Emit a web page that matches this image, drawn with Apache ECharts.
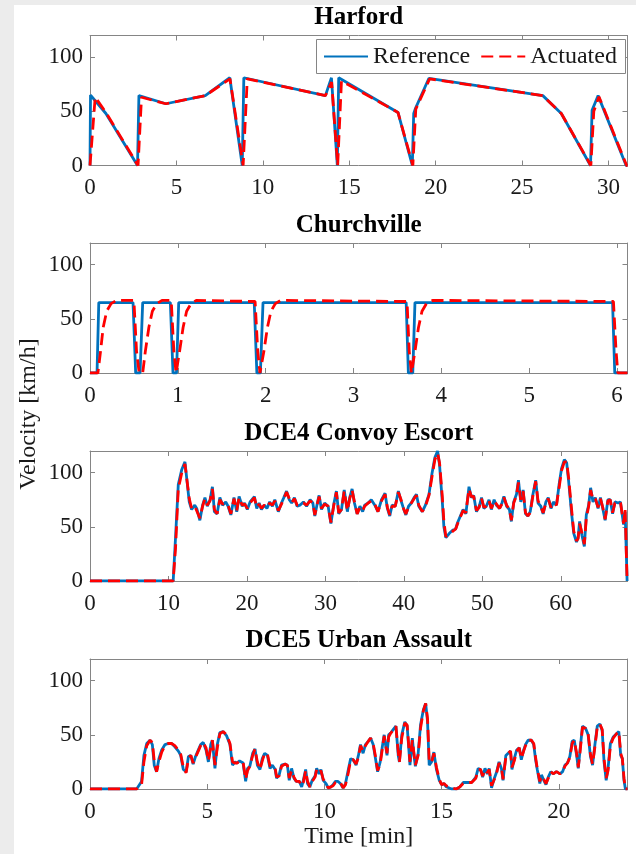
<!DOCTYPE html>
<html><head><meta charset="utf-8">
<script src="https://cdn.jsdelivr.net/npm/echarts@6/dist/echarts.min.js"></script>
<style>html,body{margin:0;padding:0;background:#fff}#c{width:636px;height:854px}</style>
</head><body><div id="c"></div>
<script>
// ---------- DATA ----------
const panelTitles = ['Harford', 'Churchville', 'DCE4 Convoy Escort', 'DCE5 Urban Assault'];
const xMaxes = [31.1, 6.12, 68.5, 22.93];
const xIntervals = [5, 1, 10, 5];
const yMax = 120, yInterval = 50;
const legendNames = ['Reference', 'Actuated'];
const xAxisTitle = 'Time [min]';
const yAxisTitle = 'Velocity [km/h]';

const harfordRefTime = [0,0.03,0.92,2.75,2.83,4.39,6.67,8.09,8.81,8.9,13.62,13.97,14.31,14.39,17.82,18.65,18.73,18.84,19.61,26.2,27.27,28.96,29.05,29.4,31.02,31.1];
const harfordRefVel  = [0,65,48,0,64.5,57,64.5,81,0,81,64.5,81,0,81,49,0,48,53,80.5,64.5,48,0,51,64.5,0,0];
const harfordActTime = [0,0.3,0.92,2.78,2.98,4.39,6.67,8.1,8.86,9.1,13.62,13.98,14.33,14.55,17.82,18.68,18.85,19.65,26.2,27.27,28.98,29.15,29.45,31.05,31.1];
const harfordActVel  = [0,63,49,0,63,57,64.5,80,0,80,64.5,77,0,78,49,0,52,80,64.5,48,0,50,63.5,0,0];

const churchRefTime = [0,0.08,0.1,0.49,0.52,0.57,0.6,0.915,0.945,0.985,1.01,1.87,1.9,1.94,1.97,3.6,3.625,3.675,3.7,5.95,5.975,6.12];
const churchRefVel  = [0,0,65,65,0,0,65,65,0,0,65,65,0,0,65,65,0,0,65,65,0,0];
const churchActTime = [0,0.09,0.12,0.15,0.19,0.24,0.3,0.5,0.53,0.56,0.6,0.63,0.67,0.71,0.76,0.82,0.925,0.955,0.98,0.99,1.02,1.06,1.1,1.15,1.21,1.88,1.91,1.935,1.95,1.98,2.02,2.06,2.11,2.17,3.61,3.635,3.66,3.67,3.7,3.74,3.78,3.83,3.9,5.96,5.99,6.01,6.12];
const churchActVel  = [0,0,20,42,57,64,67,67,20,0,0,20,42,57,64,67,67,20,0,0,20,42,57,64,67,66,20,0,0,20,42,57,64,67,66,20,0,0,20,42,57,64,67,66,20,0,0];

const dce4Time = [0,10.6,10.9,11.25,11.7,12.1,12.65,12.95,13.35,13.6,
 14.0,14.35,14.65,14.95,15.3,15.6,15.85,16.2,16.55,16.9,
 17.3,17.6,17.95,18.35,18.7,19.0,19.4,19.7,20.05,20.4,
 20.95,21.25,21.55,21.85,22.2,22.55,22.9,23.25,23.55,24.0,
 24.4,24.7,25.05,25.4,25.7,26.05,26.4,26.75,27.2,27.6,
 28.05,28.4,28.65,29.0,29.2,29.5,29.9,30.35,30.7,31.1,
 31.4,31.7,32.05,32.4,32.8,33.1,33.4,33.7,34.05,34.4,
 34.75,35.0,35.45,35.85,36.3,36.7,37.15,37.6,37.9,38.2,
 38.5,38.9,39.3,39.6,39.95,40.25,40.6,40.95,41.3,41.6,
 41.9,42.35,42.75,43.2,43.6,43.95,44.3,44.55,44.9,45.1,
 45.35,45.8,46.25,46.6,46.8,47.2,47.55,47.9,48.3,48.6,
 48.9,49.25,49.6,49.9,50.2,50.5,50.85,51.15,51.5,51.8,
 52.2,52.5,52.75,53.1,53.45,53.7,54.0,54.35,54.6,54.9,
 55.2,55.5,55.8,56.1,56.45,56.8,57.1,57.45,57.75,58.1,
 58.4,58.75,59.05,59.45,59.8,60.1,60.45,60.75,61.0,61.35,
 61.65,62.0,62.2,62.4,62.7,63.0,63.25,63.55,63.8,64.1,
 64.4,64.75,65.05,65.35,65.65,66.0,66.3,66.6,66.9,67.3,
 67.6,68.0,68.2,68.45,68.5];
const dce4Ref = [0,0,40,89,103,110,73,66,70,67,
 56,70,77,69,75,87,64,62,77,70,
 73,69,61,77,64,78,69,72,66,73,
 78,67,72,66,70,67,73,69,75,64,
 72,77,83,75,72,77,69,70,73,69,
 75,72,60,73,79,66,72,69,53,72,
 83,62,66,84,64,77,85,72,62,69,
 64,70,72,75,70,64,75,81,67,60,
 70,69,83,75,67,61,69,72,77,80,
 69,64,70,80,100,114,120,107,73,50,
 40,44,47,48,53,60,66,62,87,77,
 79,64,69,77,67,69,75,66,75,70,
 67,72,78,69,66,55,73,80,93,73,
 84,62,60,64,80,93,72,69,62,73,
 77,67,73,70,90,104,112,109,92,64,
 44,36,40,55,42,32,61,70,86,73,
 77,67,77,67,56,75,75,62,73,72,
 73,52,64,0,0];
const dce4Act = [0,0,30,85,100,108,76,67,69,68,
 58,69,76,70,74,85,66,62,75,71,
 72,70,62,76,65,77,70,71,67,72,
 77,68,71,67,70,68,72,70,74,65,
 71,76,82,76,72,76,70,70,72,70,
 74,72,61,72,78,67,71,69,54,71,
 82,63,66,83,65,76,84,73,62,68,
 65,69,72,74,71,64,74,80,68,61,
 69,69,82,76,67,62,68,72,76,79,
 70,64,69,79,97,112,118,109,78,55,
 41,43,46,48,52,59,65,63,85,78,
 78,65,68,76,68,69,74,67,74,71,
 67,71,77,70,66,56,72,79,91,75,
 83,63,60,63,79,92,74,69,63,72,
 76,68,72,70,87,102,110,110,95,68,
 46,37,39,53,44,34,58,69,84,75,
 76,68,76,68,57,74,75,63,72,72,
 73,53,66,0,0];

const dce5Time = [0,1.99,2.2,2.3,2.42,2.56,2.66,2.74,2.84,2.94,
 3.06,3.2,3.34,3.48,3.62,3.77,3.87,3.98,4.1,4.2,
 4.3,4.4,4.5,4.6,4.72,4.83,4.95,5.05,5.15,5.22,
 5.33,5.43,5.54,5.68,5.83,5.97,6.08,6.18,6.28,6.38,
 6.53,6.64,6.72,6.82,6.94,7.04,7.14,7.25,7.35,7.45,
 7.57,7.68,7.78,7.9,7.96,8.07,8.17,8.32,8.42,8.5,
 8.6,8.7,8.8,8.93,9.03,9.1,9.2,9.28,9.38,9.48,
 9.6,9.67,9.77,9.85,9.95,10.07,10.16,10.28,10.37,10.47,
 10.58,10.68,10.8,10.9,11.02,11.12,11.23,11.35,11.45,11.54,
 11.65,11.75,11.87,11.97,12.08,12.18,12.27,12.38,12.47,12.55,
 12.67,12.74,12.84,12.94,13.05,13.15,13.2,13.3,13.43,13.53,
 13.65,13.75,13.82,13.88,14.0,14.1,14.22,14.32,14.4,14.47,
 14.57,14.67,14.78,14.9,15.0,15.1,15.2,15.42,15.63,15.78,
 15.92,16.06,16.28,16.46,16.56,16.66,16.75,16.85,16.95,17.03,
 17.13,17.25,17.35,17.45,17.55,17.62,17.74,17.84,17.94,18.0,
 18.1,18.2,18.31,18.4,18.5,18.58,18.69,18.83,18.93,19.01,
 19.08,19.19,19.26,19.36,19.45,19.55,19.66,19.76,19.9,20.05,
 20.16,20.26,20.37,20.47,20.57,20.66,20.76,20.83,20.9,21.01,
 21.14,21.25,21.35,21.44,21.54,21.64,21.75,21.85,21.93,22.02,
 22.1,22.2,22.32,22.46,22.56,22.64,22.71,22.78,22.84,22.93];
const dce5Ref = [0,0,7,31,42,45,41,22,16,28,
 36,41,42,42,39,35,31,18,16,30,
 31,23,30,35,41,43,36,25,41,45,
 19,41,52,53,49,41,22,25,24,26,
 24,7,19,21,33,37,22,18,28,33,
 31,19,22,18,10,13,22,23,22,8,
 19,10,7,7,2,8,18,5,2,8,
 12,19,14,18,8,5,1,2,4,7,
 7,5,1,5,18,28,27,22,31,41,
 33,41,44,47,41,28,16,25,39,50,
 31,50,52,55,58,31,25,50,62,58,
 22,47,31,21,33,59,73,79,62,22,
 25,34,18,8,4,5,2,0,0,2,
 6,6,6,11,19,18,11,19,14,19,
 1,10,16,25,19,8,31,33,35,18,
 28,36,38,27,36,41,45,45,41,27,
 18,5,13,8,4,11,16,14,16,14,
 16,22,24,30,44,45,31,19,35,58,
 56,50,30,22,41,58,60,54,25,8,
 19,42,48,51,53,31,28,8,0,0];
const dce5Act = [0,0,4,25,40,45,43,26,16,25,
 34,40,42,42,40,36,32,20,15,28,
 31,24,29,34,40,43,38,26,38,45,
 22,38,51,53,50,42,25,24,24,26,
 25,9,17,21,31,37,25,18,26,33,
 32,21,21,19,11,12,21,23,22,10,
 17,11,7,7,3,6,17,7,2,7,
 11,18,15,17,9,5,1,2,3,6,
 7,6,1,4,15,27,27,23,29,40,
 35,40,44,47,42,30,17,23,37,49,
 33,48,52,54,58,34,25,47,61,59,
 25,45,33,22,31,56,72,79,65,26,
 24,33,20,9,4,5,3,1,0,2,
 5,6,6,10,18,18,12,18,15,18,
 3,9,15,24,20,9,29,33,35,20,
 26,35,38,28,35,40,45,45,42,29,
 19,7,12,9,5,10,16,14,16,14,
 16,21,24,29,42,45,33,20,33,57,
 56,51,32,23,39,57,60,55,28,10,
 17,40,47,51,53,33,28,10,0,0];

// ---------- LAYOUT / STYLE ----------
const FONT = '"Liberation Serif", "Times New Roman", serif';
const AXIS_COLOR = '#858585';
const TEXT_COLOR = '#1a1a1a';
const REF_COLOR = '#0072BD';
const ACT_COLOR = '#FF0000';
const gridLeft = 90, gridWidth = 537.5, gridHeight = 130;
const gridTops = [35.5, 243, 451, 659];
const titleYs = [18, 226, 434, 641];

function zip(t, v) { return t.map((x, i) => [x, v[i]]); }
const refSets = [zip(harfordRefTime, harfordRefVel), zip(churchRefTime, churchRefVel), zip(dce4Time, dce4Ref), zip(dce5Time, dce5Ref)];
const actSets = [zip(harfordActTime, harfordActVel), zip(churchActTime, churchActVel), zip(dce4Time, dce4Act), zip(dce5Time, dce5Act)];

const grids = [], xAxes = [], yAxes = [], series = [], graphics = [];
const axisLine = { show: true, onZero: false, lineStyle: { color: AXIS_COLOR, width: 1 } };
const axisTick = { show: true, inside: true, length: 5, lineStyle: { color: AXIS_COLOR, width: 1 } };

panelTitles.forEach((title, i) => {
  grids.push({ left: gridLeft, width: gridWidth, top: gridTops[i], height: gridHeight, show: false });
  const xBase = { type: 'value', gridIndex: i, min: 0, max: xMaxes[i], interval: xIntervals[i],
    axisLine, axisTick, splitLine: { show: false } };
  xAxes.push(Object.assign({}, xBase, { position: 'bottom',
    axisLabel: { show: true, fontFamily: FONT, fontSize: 23, color: TEXT_COLOR, margin: 11, showMaxLabel: false } }));
  xAxes.push(Object.assign({}, xBase, { position: 'top', axisLabel: { show: false } }));
  const yBase = { type: 'value', gridIndex: i, min: 0, max: yMax, interval: yInterval,
    axisLine, axisTick, splitLine: { show: false } };
  yAxes.push(Object.assign({}, yBase, { position: 'left',
    axisLabel: { show: true, fontFamily: FONT, fontSize: 23, color: TEXT_COLOR, margin: 7, showMaxLabel: false } }));
  yAxes.push(Object.assign({}, yBase, { position: 'right', axisLabel: { show: false } }));

  series.push({ type: 'line', name: legendNames[0], xAxisIndex: 2 * i, yAxisIndex: 2 * i, data: refSets[i],
    symbol: 'none', showSymbol: false, z: 2,
    lineStyle: { color: REF_COLOR, width: 2.8 }, itemStyle: { color: REF_COLOR } });
  series.push({ type: 'line', name: legendNames[1], xAxisIndex: 2 * i, yAxisIndex: 2 * i, data: actSets[i],
    symbol: 'none', showSymbol: false, z: 3,
    lineStyle: { color: ACT_COLOR, width: 2.8, type: [12, 6] }, itemStyle: { color: ACT_COLOR } });

  graphics.push({ type: 'text', x: gridLeft + gridWidth / 2, y: titleYs[i], z: 10,
    style: { text: title, fill: '#000', font: 'bold 25px ' + FONT,
      align: 'center', verticalAlign: 'middle', textAlign: 'center', textVerticalAlign: 'middle' } });
});

// page edge shading
graphics.push({ type: 'rect', shape: { x: 0, y: 0, width: 14, height: 854 }, style: { fill: '#ececec' }, z: 0 });
graphics.push({ type: 'rect', shape: { x: 0, y: 0, width: 636, height: 5 }, style: { fill: '#ececec' }, z: 0 });
// legend box
graphics.push({ type: 'rect', shape: { x: 316.5, y: 39.5, width: 309, height: 34 },
  style: { fill: '#fff', stroke: AXIS_COLOR, lineWidth: 1 }, z: 20 });
// axis titles
graphics.push({ type: 'text', x: 358.75, y: 837, z: 10,
  style: { text: xAxisTitle, fill: TEXT_COLOR, font: '24px ' + FONT,
    align: 'center', verticalAlign: 'middle', textAlign: 'center', textVerticalAlign: 'middle' } });
graphics.push({ type: 'text', x: 29, y: 414, rotation: Math.PI / 2, z: 10,
  style: { text: yAxisTitle, fill: TEXT_COLOR, font: '24px ' + FONT,
    align: 'center', verticalAlign: 'middle', textAlign: 'center', textVerticalAlign: 'middle' } });

const chart = echarts.init(document.getElementById('c'), null, { renderer: 'canvas' });
chart.setOption({
  animation: false,
  backgroundColor: '#ffffff',
  grid: grids,
  xAxis: xAxes,
  yAxis: yAxes,
  series: series,
  legend: { show: true, data: legendNames, left: 323, top: 44.5, padding: 0, itemGap: 10,
    itemWidth: 44, itemHeight: 14, z: 30, zlevel: 0, selectedMode: false,
    itemStyle: { opacity: 0, borderWidth: 0 },
    textStyle: { fontFamily: FONT, fontSize: 24, color: TEXT_COLOR } },
  graphic: graphics
});
</script>
</body></html>
